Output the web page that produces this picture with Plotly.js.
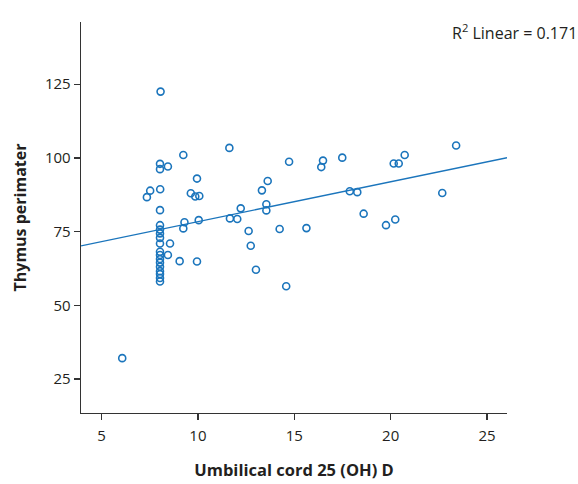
<!DOCTYPE html>
<html>
<head>
<meta charset="utf-8">
<script src="https://cdn.plot.ly/plotly-3.0.1.min.js"></script>
<style>html,body{margin:0;padding:0;background:#fff;}#chart{width:578px;height:484px;}</style>
</head>
<body>
<div id="chart"></div>
<script>
// Umbilical cord 25(OH)D values
const cordVitD = [
  8.06, 9.24, 8.03, 8.03, 8.44, 9.95, 7.52, 8.04, 7.35, 9.63, 9.86, 10.07, 8.03,
  9.30, 10.04, 9.24,
  8.03, 8.03, 8.03, 8.03, 8.03, 8.03, 8.03, 8.03, 8.03, 8.03, 8.03, 8.03, 8.03, 8.03,
  8.55, 8.44, 9.05, 9.95, 6.07,
  11.63, 14.73, 16.49, 16.40, 17.49, 13.62, 13.32, 13.55, 13.55, 12.22, 11.66, 12.04,
  12.63, 12.74, 13.01, 14.58, 14.24, 15.63, 17.88, 18.27,
  20.16, 20.42, 20.73, 23.40, 22.68, 18.60, 19.76, 20.24
];
// Thymus perimeter values
const thymusPerimeter = [
  122.5, 101.0, 98.0, 96.2, 97.1, 93.0, 88.9, 89.4, 86.7, 88.0, 86.9, 87.1, 82.3,
  78.2, 78.9, 76.1,
  77.2, 75.7, 74.4, 72.9, 71.0, 68.2, 67.1, 65.7, 64.5, 63.1, 61.6, 60.6, 59.3, 58.1,
  71.0, 67.1, 65.0, 64.9, 32.1,
  103.4, 98.7, 99.1, 96.9, 100.1, 92.2, 89.0, 84.3, 82.2, 82.9, 79.5, 79.3,
  75.2, 70.2, 62.1, 56.5, 75.9, 76.2, 88.7, 88.4,
  98.1, 98.1, 101.0, 104.2, 88.1, 81.1, 77.2, 79.1
];
const xTicks = [5, 10, 15, 20, 25];
const yTicks = [25, 50, 75, 100, 125];
const xRange = [3.93, 26.04];
const yRange = [13.5, 146.1];
const r2Label = 'R<sup>2</sup> Linear = 0.171';

// least-squares fit
const n = cordVitD.length;
let sx = 0, sy = 0, sxx = 0, sxy = 0;
for (let i = 0; i < n; i++) {
  sx += cordVitD[i]; sy += thymusPerimeter[i];
  sxx += cordVitD[i] * cordVitD[i]; sxy += cordVitD[i] * thymusPerimeter[i];
}
const slope = (n * sxy - sx * sy) / (n * sxx - sx * sx);
const intercept = (sy - slope * sx) / n;
const fitX = [xRange[0], xRange[1]];
const fitY = fitX.map(v => intercept + slope * v);

const blue = '#1b75bc';
const font = '"Open Sans", "Noto Sans", sans-serif';
const textColor = '#231f20';

const traces = [
  {
    x: fitX, y: fitY, mode: 'lines', type: 'scatter',
    line: {color: blue, width: 1.3}, hoverinfo: 'skip', showlegend: false
  },
  {
    x: cordVitD, y: thymusPerimeter, mode: 'markers', type: 'scatter',
    marker: {symbol: 'circle-open', size: 7, color: blue, line: {width: 1.6, color: blue}},
    showlegend: false
  }
];

const layout = {
  width: 578, height: 484,
  margin: {l: 81, r: 71, t: 22, b: 71},
  paper_bgcolor: '#fff', plot_bgcolor: '#fff',
  font: {family: font, color: textColor, size: 15},
  xaxis: {
    range: xRange, tickvals: xTicks, ticktext: xTicks.map(String),
    showgrid: false, zeroline: false, showline: true, linecolor: '#333', linewidth: 1.3,
    ticks: 'outside', ticklen: 6, tickcolor: '#333', tickwidth: 1.3, ticklabelstandoff: 3,
    tickfont: {size: 15, family: font, color: textColor},
    title: {text: '<b>Umbilical cord 25 (OH) D</b>', font: {size: 16.5, family: font, color: textColor}, standoff: 20},
    automargin: false
  },
  yaxis: {
    range: yRange, tickvals: yTicks, ticktext: yTicks.map(String),
    showgrid: false, zeroline: false, showline: true, linecolor: '#333', linewidth: 1.3,
    ticks: 'outside', ticklen: 6, tickcolor: '#333', tickwidth: 1.3,
    tickfont: {size: 15, family: font, color: textColor},
    title: {text: '<b>Thymus perimater</b>', font: {size: 16, family: font, color: textColor}, standoff: 14},
    automargin: false
  },
  annotations: [{
    text: r2Label, xref: 'paper', yref: 'paper', x: 1.168, y: 1.01, xanchor: 'right', yanchor: 'top',
    showarrow: false, font: {size: 16, family: font, color: textColor}
  }]
};

Plotly.newPlot('chart', traces, layout, {staticPlot: true, displayModeBar: false});
</script>
</body>
</html>
